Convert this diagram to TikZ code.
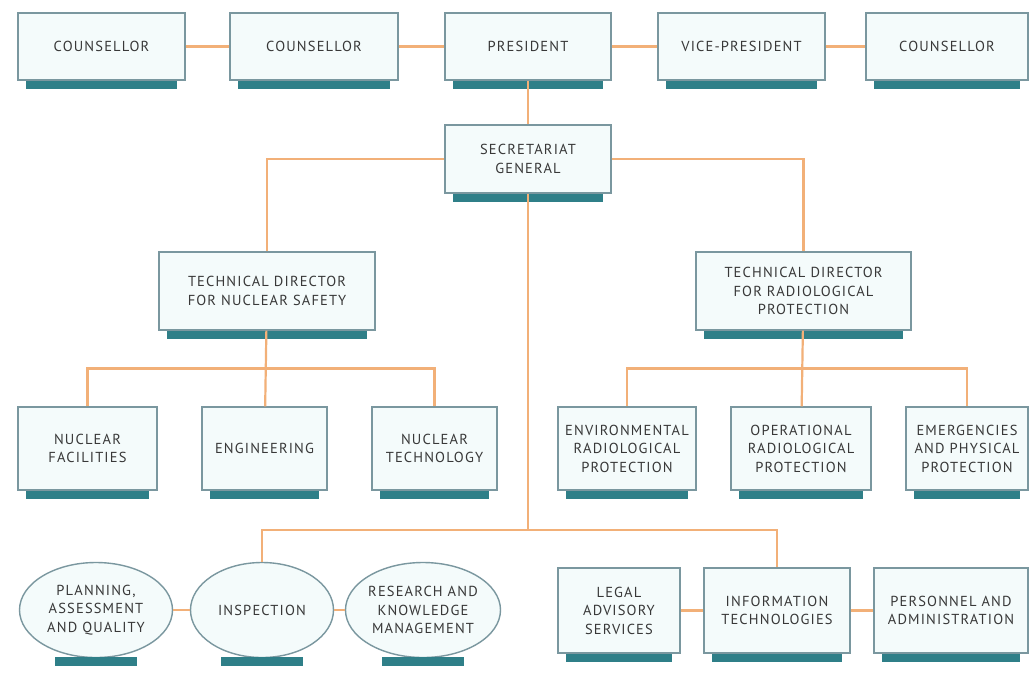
\documentclass[tikz,border=0pt]{standalone}
\usepackage{fontspec}
\setmainfont{PT Sans}[LetterSpace=8]
\usepackage{tikz}
\usetikzlibrary{shapes.geometric,calc}
\definecolor{linkorange}{HTML}{F2B078}
\definecolor{boxedge}{HTML}{7A979F}
\definecolor{boxfill}{HTML}{F4FBFB}
\definecolor{barteal}{HTML}{2F7F88}
\definecolor{inktext}{HTML}{383838}
\tikzset{
  unit/.style={draw=boxedge, line width=1.4pt, fill=boxfill, rectangle, inner sep=0pt,
    align=center, text=inktext, font=\fontsize{14.5}{18.5}\selectfont},
  oval/.style={unit, ellipse},
  link/.style={draw=linkorange, line width=2.2pt},
  bar/.style={fill=barteal}
}
\begin{document}
\begin{tikzpicture}[x=1pt, y=-1pt]
		\useasboundingbox (0,0) rectangle (1033,675);
		\fill[white] (0,0) rectangle (1033,675);
		
		\node[unit, minimum width=167pt, minimum height=67pt] (cnsA) at (101.5,46.5) {COUNSELLOR};
		\node[unit, minimum width=168pt, minimum height=67pt] (cnsB) at (314,46.5) {COUNSELLOR};
		\node[unit, minimum width=166pt, minimum height=67pt] (pres) at (528,46.5) {PRESIDENT};
		\node[unit, minimum width=167pt, minimum height=67pt] (vice) at (741.5,46.5) {VICE-PRESIDENT};
		\node[unit, minimum width=162pt, minimum height=67pt] (cnsC) at (947,46.5) {COUNSELLOR};
		
		\node[unit, minimum width=166pt, minimum height=68pt] (sec) at (528,159) {SECRETARIAT\\GENERAL};
		
		\node[unit, minimum width=216pt, minimum height=78pt] (tdN) at (267,291) {TECHNICAL DIRECTOR\\FOR NUCLEAR SAFETY};
		\node[unit, minimum width=215pt, minimum height=78pt] (tdR) at (803.5,291) {TECHNICAL DIRECTOR\\FOR RADIOLOGICAL\\PROTECTION};
		
		\node[unit, minimum width=139pt, minimum height=83pt] (nucfac) at (87.5,448.5) {NUCLEAR\\FACILITIES};
		\node[unit, minimum width=125pt, minimum height=83pt] (eng) at (264.5,448.5) {ENGINEERING};
		\node[unit, minimum width=125pt, minimum height=83pt] (nuctech) at (434.5,448.5) {NUCLEAR\\TECHNOLOGY};
		\node[unit, minimum width=138pt, minimum height=83pt] (env) at (627,448.5) {ENVIRONMENTAL\\RADIOLOGICAL\\PROTECTION};
		\node[unit, minimum width=140pt, minimum height=83pt] (oper) at (801,448.5) {OPERATIONAL\\RADIOLOGICAL\\PROTECTION};
		\node[unit, minimum width=122pt, minimum height=83pt] (emerg) at (967,448.5) {EMERGENCIES\\AND PHYSICAL\\PROTECTION};
		
		\node[oval, minimum width=153pt, minimum height=95pt] (plan) at (96,610) {PLANNING,\\ASSESSMENT\\AND QUALITY};
		\node[oval, minimum width=143pt, minimum height=95pt] (insp) at (262,610) {INSPECTION};
		\node[oval, minimum width=155pt, minimum height=95pt] (res) at (423,610) {RESEARCH AND\\KNOWLEDGE\\MANAGEMENT};
		\node[unit, minimum width=122pt, minimum height=85pt] (legal) at (619,610.5) {LEGAL\\ADVISORY\\SERVICES};
		\node[unit, minimum width=146pt, minimum height=85pt] (info) at (777,610.5) {INFORMATION\\TECHNOLOGIES};
		\node[unit, minimum width=154pt, minimum height=85pt] (pers) at (951,610.5) {PERSONNEL AND\\ADMINISTRATION};
		
		\foreach \n in {cnsA,cnsB,pres,vice,cnsC,sec,tdN,tdR,nucfac,eng,nuctech,env,oper,emerg,legal,info,pers}
			\fill[bar] ([xshift=9pt]\n.south west) rectangle ([xshift=-9pt,yshift=-8pt]\n.south east);
		\foreach \n in {plan,insp,res}
			\fill[bar] ([xshift=-41pt,yshift=1pt]\n.south) rectangle ([xshift=41pt,yshift=-8pt]\n.south);
		
		\coordinate (busN) at ($(tdN.south)!0.5!(eng.north)$);
		\coordinate (busR) at ($(tdR.south)!0.5!(oper.north)$);
		\coordinate (busM) at (sec.south |- 0,530);
		
		\draw[link] (cnsA) -- (cnsB);
		\draw[link] (cnsB) -- (pres);
		\draw[link] (pres) -- (vice);
		\draw[link] (vice) -- (cnsC);
		\draw[link] (pres) -- (sec);
		\draw[link] (sec.west) -| (tdN.north);
		\draw[link] (sec.east) -| (tdR.north);
		\draw[link] (tdN) -- (eng);
		\draw[link] (nucfac.north) |- (busN) -| (nuctech.north);
		\draw[link] (tdR) -- (oper);
		\draw[link] (env.north) |- (busR) -| (emerg.north);
		\draw[link] (sec.south) -- (busM);
		\draw[link] (insp.north) |- (busM) -| (info.north);
		\draw[link] (plan) -- (insp);
		\draw[link] (insp) -- (res);
		\draw[link] (legal) -- (info);
		\draw[link] (info) -- (pers);
	\end{tikzpicture}
\end{document}
